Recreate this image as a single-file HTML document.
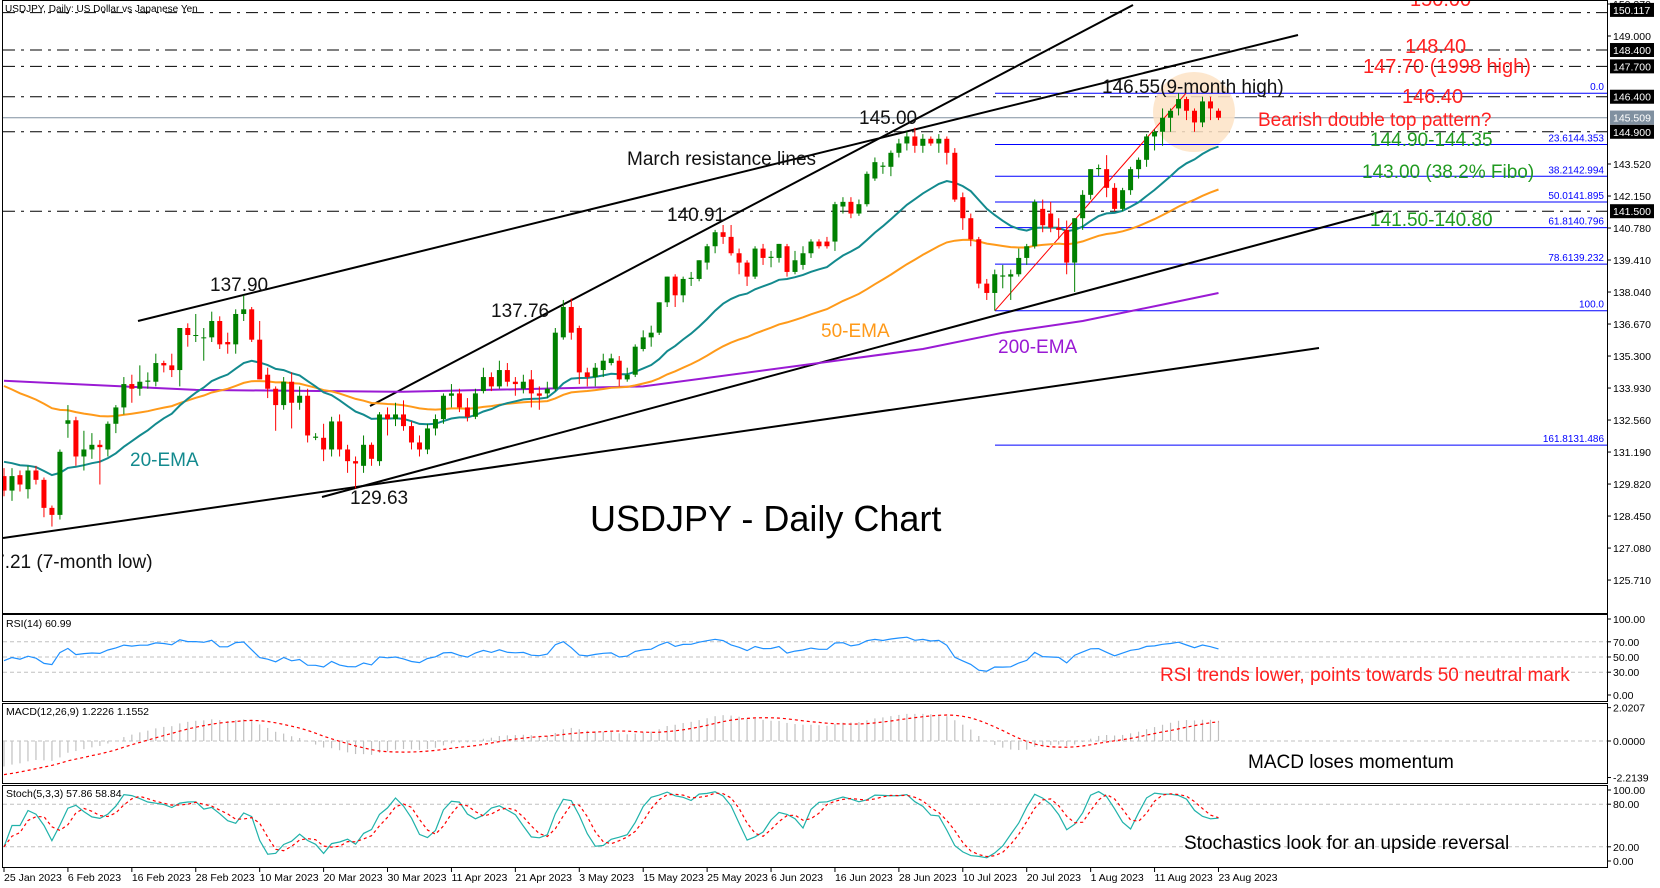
<!DOCTYPE html>
<html><head><meta charset="utf-8"><style>
html,body{margin:0;padding:0;background:#fff;}
svg{display:block;font-family:"Liberation Sans",sans-serif;}
</style></head><body>
<svg id="c" width="1660" height="888" viewBox="0 0 1660 888" xmlns="http://www.w3.org/2000/svg"></svg>
<script>
const opens=[130.16,129.54,130.2,129.6,130.4,130.0,128.8,128.5,132.4,132.55,131.0,131.3,131.5,131.3,132.4,133.1,134.1,133.9,134.2,134.2,135.0,134.9,134.7,136.5,136.2,136.1,136.1,136.8,135.9,135.8,137.1,137.3,136.0,134.5,133.9,133.2,134.2,133.3,133.6,131.8,131.8,131.3,132.5,131.3,130.8,130.6,131.5,130.8,132.8,132.6,132.8,132.3,131.6,131.3,132.2,132.6,133.6,133.7,133.1,132.7,133.8,134.4,134.0,134.7,134.2,133.9,134.3,133.7,133.7,133.9,136.1,137.4,136.5,134.6,134.4,134.7,135.0,135.1,134.3,134.5,135.6,136.1,136.3,137.6,138.7,137.9,138.6,138.6,139.3,140.0,140.6,140.4,139.7,139.3,138.7,139.9,139.5,139.5,140.0,138.9,139.2,139.7,140.2,140.2,140.2,141.7,141.9,141.4,141.8,142.9,143.4,143.4,144.0,144.4,144.7,144.3,144.6,144.4,144.6,144.0,142.1,141.2,140.3,138.4,138.0,138.7,138.7,138.8,139.5,140.0,141.6,141.4,140.8,140.7,139.3,141.2,142.2,143.3,143.3,142.5,141.6,142.4,143.3,143.7,144.7,144.9,145.5,145.9,146.3,145.8,145.3,146.2,145.8];
const closes=[129.54,130.16,129.8,130.4,130.0,128.8,128.5,131.2,132.55,131.0,131.3,131.5,131.4,132.4,133.1,134.1,133.9,134.2,134.25,135.0,134.9,134.7,136.5,136.2,136.2,136.1,136.8,135.8,135.8,137.1,137.3,136.0,134.3,133.9,133.2,134.2,133.3,133.6,131.9,131.85,131.3,132.5,131.3,130.8,130.7,131.5,130.9,132.8,132.6,132.8,132.3,131.6,131.3,132.2,132.6,133.6,133.7,133.1,132.7,133.7,134.4,134.0,134.7,134.2,134.1,134.2,133.7,133.6,133.9,136.3,137.4,136.3,134.6,134.4,134.8,135.1,135.2,134.3,134.5,135.7,136.1,136.3,137.6,138.7,137.9,138.6,138.65,139.4,140.0,140.6,140.4,139.7,139.3,138.7,139.9,139.5,139.55,140.1,138.9,139.4,139.7,140.2,140.0,140.0,141.8,141.9,141.4,141.8,143.1,143.6,143.45,144.0,144.4,144.7,144.3,144.6,144.4,144.6,144.0,142.0,141.2,140.3,138.4,138.0,138.8,138.75,138.8,139.5,140.0,141.9,140.9,140.8,140.7,139.3,141.2,142.2,143.3,143.35,142.5,141.6,142.4,143.3,143.7,144.7,144.9,145.5,145.8,146.3,145.8,145.3,146.2,145.9,145.5];
const highs=[130.5,130.5,130.4,130.6,130.6,130.1,128.9,131.3,133.2,132.7,132.1,132.0,131.7,132.5,133.2,134.4,134.5,134.9,134.6,135.4,135.1,135.4,136.5,136.7,137.1,136.5,137.2,137.0,136.3,137.3,137.9,137.4,136.8,134.8,134.0,134.4,134.6,134.0,133.9,132.0,132.4,132.7,132.8,131.5,131.0,131.9,131.6,132.9,133.1,133.3,133.4,132.5,131.9,132.4,132.8,133.7,134.1,133.9,133.5,133.9,134.8,134.6,135.1,135.0,134.4,134.5,134.7,134.0,134.2,136.5,137.7,137.76,136.6,134.8,135.0,135.4,135.4,135.3,134.8,135.8,136.4,136.6,137.6,138.7,138.8,138.7,138.9,139.4,140.1,140.7,140.91,140.91,139.9,139.4,140.0,140.1,139.8,140.1,140.1,139.8,140.0,140.3,140.3,140.4,141.9,142.1,142.1,142.0,143.2,143.8,143.6,144.1,144.6,144.9,145.07,144.8,144.7,144.8,144.7,144.2,142.3,141.4,140.4,138.6,139.0,139.2,139.0,139.9,140.1,142.0,142.0,141.9,141.2,141.1,141.2,142.4,143.3,143.5,143.9,142.7,142.5,143.4,143.8,144.8,145.0,145.9,145.9,146.55,146.4,145.9,146.4,146.4,145.9];
const lows=[129.3,129.1,129.5,129.2,129.8,128.4,128.0,128.3,131.8,130.6,130.4,130.9,129.8,131.0,132.0,132.8,133.3,133.6,133.9,134.0,134.6,134.4,134.0,135.7,135.9,135.1,135.9,135.6,135.4,135.4,136.8,135.9,134.3,133.5,132.1,133.0,132.2,133.0,131.6,131.7,130.8,131.0,131.0,130.3,129.63,130.3,130.6,130.6,131.9,132.3,132.1,131.3,131.0,131.1,131.9,132.4,133.1,132.9,132.5,132.6,133.7,133.8,133.9,134.0,133.6,133.7,133.1,133.0,133.5,133.8,136.0,136.0,134.1,134.0,134.0,134.4,134.9,134.0,134.2,134.4,135.5,135.7,136.2,137.4,137.4,137.6,138.3,138.5,139.0,139.7,140.1,139.6,138.8,138.3,138.6,139.2,139.1,139.3,138.7,138.8,139.0,139.5,139.9,139.9,139.8,141.4,141.2,141.3,141.7,142.8,143.1,143.0,143.8,144.1,144.0,144.0,144.3,144.0,143.5,141.9,140.7,140.0,138.2,137.7,137.24,138.2,137.7,138.7,139.2,139.9,140.6,140.6,140.3,138.8,138.04,140.7,142.0,143.0,142.1,141.5,141.5,142.2,142.9,143.4,144.1,144.3,144.9,145.6,145.4,144.9,145.1,145.4,145.4];
const ema200Idx=[0,24,50,80,102,115,125,135,145,152];
const ema200Val=[134.24,133.85,133.77,134.0,135.0,135.6,136.3,136.8,137.5,138.0];
const dateLabels=["25 Jan 2023","6 Feb 2023","16 Feb 2023","28 Feb 2023","10 Mar 2023","20 Mar 2023","30 Mar 2023","11 Apr 2023","21 Apr 2023","3 May 2023","15 May 2023","25 May 2023","6 Jun 2023","16 Jun 2023","28 Jun 2023","10 Jul 2023","20 Jul 2023","1 Aug 2023","11 Aug 2023","23 Aug 2023"];
const priceTicks=[150.370,149.000,143.520,142.150,140.780,139.410,138.040,136.670,135.300,133.930,132.560,131.190,129.820,128.450,127.080,125.710];
const levelLines=[150.00,148.40,147.70,146.40,144.90,141.50];
const levelMarkers=[150.117,148.400,147.700,146.400,144.900,141.500];
const fibLevels=[0,23.6,38.2,50,61.8,78.6,100,161.8];
const fibHigh=146.55, fibLow=137.24;

const NS="http://www.w3.org/2000/svg";
const svg=document.getElementById('c');
function el(tag,attrs,parent,text){const e=document.createElementNS(NS,tag);for(const k in attrs)e.setAttribute(k,attrs[k]);if(text!==undefined)e.textContent=text;(parent||svg).appendChild(e);return e;}
const R=1607;
const xB=i=>4+i*7.99;
const yP=p=>36+(149-p)*23.36;
const yR=v=>695-v*0.76;
const yM=v=>741-v*16.5;
const yS=v=>861-v*0.71;
const N=closes.length;

const frames=[[2,0,613,'main-panel'],[2,614,701,'rsi-panel'],[2,703,783,'macd-panel'],[2,785,867,'stoch-panel']];
frames.forEach(f=>{const r=el('rect',{x:f[0]+.5,y:f[1]+.5,width:R-f[0],height:f[2]-f[1],fill:'none',stroke:'#000','stroke-width':1});});
const clip=el('clipPath',{id:'cm'});el('rect',{x:3,y:1,width:R-3,height:612},clip);
const g=el('g',{'clip-path':'url(#cm)'});



levelLines.forEach(p=>{const l=el('line',{x1:3,x2:R,y1:yP(p),y2:yP(p),stroke:'#000','stroke-width':1,'stroke-dasharray':'12,6,3,6'},g);});
const cur=el('line',{x1:3,x2:R,y1:yP(closes[N-1]),y2:yP(closes[N-1]),stroke:'#8090a0','stroke-width':1},g);


const circ=el('ellipse',{cx:1194,cy:112,rx:41,ry:40,fill:'#fde3c6','fill-opacity':0.85},g);


fibLevels.forEach(f=>{const p=fibHigh-(fibHigh-fibLow)*f/100;const y=yP(p);
 const l=el('line',{x1:995,x2:R,y1:y,y2:y,stroke:'#0000ff','stroke-width':1},g);
 const lbl=f===0?'0.0':(f===100?'100.0':f.toFixed(1)+p.toFixed(3));
 const t=el('text',{x:1604,y:y-3,'font-size':10,fill:'#0000ff','text-anchor':'end'},g,lbl);});
const fd=el('line',{x1:995,y1:yP(fibLow),x2:1186,y2:yP(fibHigh),stroke:'#ff0000','stroke-width':1},g);


[[138,321,1298,35],[370,406,1133,5],[322,497,1383,211],[3,538,1319,348]].forEach((t,k)=>{const l=el('line',{x1:t[0],y1:t[1],x2:t[2],y2:t[3],stroke:'#000','stroke-width':2},g);});

function ema(arr,n,seed){const a=2/(n+1);let e=seed;return arr.map(v=>(e=e+a*(v-e)));}
const e20=ema(closes,20,130.9), e50=ema(closes,50,134.2);
function path(vals,fx,fy){return vals.map((v,i)=>(i?'L':'M')+fx(i).toFixed(1)+','+fy(v).toFixed(1)).join('');}
const e200=ema200Idx.map((ix,k)=>[ix,ema200Val[k]]);
const p200=el('path',{d:e200.map((q,i)=>(i?'L':'M')+xB(q[0]).toFixed(1)+','+yP(q[1]).toFixed(1)).join(''),fill:'none',stroke:'#9a1ad4','stroke-width':2},g);

const p50=el('path',{d:path(e50,xB,yP),fill:'none',stroke:'#ff9a1a','stroke-width':2},g);

const p20=el('path',{d:path(e20,xB,yP),fill:'none',stroke:'#138a8e','stroke-width':2},g);


for(let i=0;i<N;i++){const o=opens[i],c=closes[i],up=c>=o,col=up?'#008000':'#ff0000',x=xB(i);
 const cg=el('g',{},g);
 el('line',{x1:x,x2:x,y1:yP(highs[i]),y2:yP(lows[i]),stroke:col,'stroke-width':1},cg);
 const yt=yP(Math.max(o,c)),yb=yP(Math.min(o,c));
 el('rect',{x:x-2.5,y:yt,width:5,height:Math.max(1,yb-yt),fill:col},cg);}

function txt(s,x,y,size,color,name,anchor){const t=el('text',{x:x,y:y,'font-size':size,fill:color,'text-anchor':anchor||'start'},g,s);return t;}
txt('USDJPY, Daily:  US Dollar vs Japanese Yen',5,12,10,'#000','chart-title');
txt('137.90',210,291,19,'#111','label-137-90');
txt('129.63',350,504,19,'#111','label-129-63');
txt('127.21 (7-month low)',-27,568,19,'#111','label-7-month-low');
txt('20-EMA',130,466,19,'#138a8e','label-20-ema');
txt('137.76',491,317,19,'#111','label-137-76');
txt('140.91',667,221,19,'#111','label-140-91');
txt('March resistance lines',627,165,19,'#111','label-march-resistance');
txt('145.00',859,124,19,'#111','label-145-00');
txt('146.55(9-month high)',1102,93,19,'#111','label-9-month-high');
txt('50-EMA',821,337,19,'#ff9a1a','label-50-ema');
txt('200-EMA',998,353,19,'#9a1ad4','label-200-ema');
txt('USDJPY - Daily Chart',590,531,36,'#000','chart-main-title');
txt('150.00',1410,6,20,'#ff2020','label-150-00');
txt('148.40',1405,53,20,'#ff2020','label-148-40');
txt('147.70 (1998 high)',1363,73,20,'#ff2020','label-147-70');
txt('146.40',1402,103,20,'#ff2020','label-146-40');
txt('Bearish double top pattern?',1258,126,19,'#ff2020','label-double-top');
txt('144.90-144.35',1370,146,19,'#209a20','label-144-90');
txt('143.00 (38.2% Fibo)',1362,178,19,'#209a20','label-143-00');
txt('141.50-140.80',1370,226,19,'#209a20','label-141-50');

function ax(s,y,name){el('line',{x1:R,x2:R+4,y1:y,y2:y,stroke:'#000'});const t=el('text',{x:R+6,y:y+4,'font-size':10.5,fill:'#000'},svg,s);}
priceTicks.forEach(p=>ax(p.toFixed(3),yP(p),'price-tick'));
function marker(p,bg){const y=yP(p);const r=el('rect',{x:R+3,y:y-7,width:44,height:14,fill:bg});el('text',{x:R+6,y:y+4,'font-size':10.5,fill:'#fff'},svg,p.toFixed(3));}
levelMarkers.forEach(p=>marker(p,'#000'));
marker(closes[N-1]+0.009,'#8090a0');

[70,50,30].forEach(v=>el('line',{x1:3,x2:R,y1:yR(v),y2:yR(v),stroke:'#c0c0c0','stroke-dasharray':'4,3'}));
[100,70,50,30,0].forEach(v=>ax(v.toFixed(2),yR(v),'rsi-tick'));
let ag=0.28,al=0.34;const rsi=closes.map((c,i)=>{const d=i?c-closes[i-1]:0;ag=(ag*13+Math.max(d,0))/14;al=(al*13+Math.max(-d,0))/14;return 100-100/(1+ag/al);});
const pr=el('path',{d:path(rsi,xB,yR),fill:'none',stroke:'#1e90ff','stroke-width':1.2});

const t1=el('text',{x:6,y:627,'font-size':10.5},svg,'RSI(14) 60.99');
const t2=el('text',{x:1160,y:681,'font-size':19,fill:'#ff2020'},svg,'RSI trends lower, points towards 50 neutral mark');

el('line',{x1:3,x2:R,y1:yM(0),y2:yM(0),stroke:'#c0c0c0','stroke-dasharray':'4,3'});
ax('2.0207',yM(2.0207),'macd-tick');ax('0.0000',yM(0),'macd-tick');ax('-2.2139',yM(-2.2139),'macd-tick');
const m12=ema(closes,12,130.3),m26=ema(closes,26,131.9);
const macd=m12.map((v,i)=>v-m26[i]);
const hist=[-2.1,-2.1,-2.1,-2.1,-2.1,-2.1,-2.1,-2.1].concat(macd);
const sig=macd.map((v,i)=>{let s=0;for(let k=0;k<9;k++)s+=hist[i+k];return s/9;});
macd.forEach((v,i)=>{const b=el('line',{x1:xB(i),x2:xB(i),y1:yM(0),y2:yM(v),stroke:'#c0c0c0','stroke-width':1.2});});
const ps=el('path',{d:path(sig,xB,yM),fill:'none',stroke:'#ff0000','stroke-width':1.2,'stroke-dasharray':'3,3'});

const t3=el('text',{x:6,y:715,'font-size':10.5},svg,'MACD(12,26,9) 1.2226 1.1552');
const t4=el('text',{x:1248,y:768,'font-size':19,fill:'#000'},svg,'MACD loses momentum');

[80,20].forEach(v=>el('line',{x1:3,x2:R,y1:yS(v),y2:yS(v),stroke:'#c0c0c0','stroke-dasharray':'4,3'}));
[100,80,20,0].forEach(v=>ax(v.toFixed(2),yS(v),'stoch-tick'));
const num=[],den=[];
for(let i=0;i<N;i++){let hh=-1e9,ll=1e9;for(let k=Math.max(0,i-4);k<=i;k++){hh=Math.max(hh,highs[k]);ll=Math.min(ll,lows[k]);}num.push(closes[i]-ll);den.push(hh-ll);}
const K=num.map((v,i)=>{let a=0,b=0;for(let k=Math.max(0,i-2);k<=i;k++){a+=num[k];b+=den[k];}return b?100*a/b:50;});
const D=K.map((v,i)=>{let s=0,n=0;for(let k=Math.max(0,i-2);k<=i;k++){s+=K[k];n++;}return s/n;});
const pk=el('path',{d:path(K,xB,yS),fill:'none',stroke:'#20b2aa','stroke-width':1.2});

const pd=el('path',{d:path(D,xB,yS),fill:'none',stroke:'#ff0000','stroke-width':1.2,'stroke-dasharray':'3,3'});

const t5=el('text',{x:6,y:797,'font-size':10.5},svg,'Stoch(5,3,3) 57.86 58.84');
const t6=el('text',{x:1184,y:849,'font-size':19,fill:'#000'},svg,'Stochastics look for an upside reversal');

dateLabels.forEach((d,k)=>{const x=xB(k*8);el('line',{x1:x,x2:x,y1:867,y2:872,stroke:'#000'});const t=el('text',{x:x,y:881,'font-size':10.5},svg,d);});
</script>
</body></html>
